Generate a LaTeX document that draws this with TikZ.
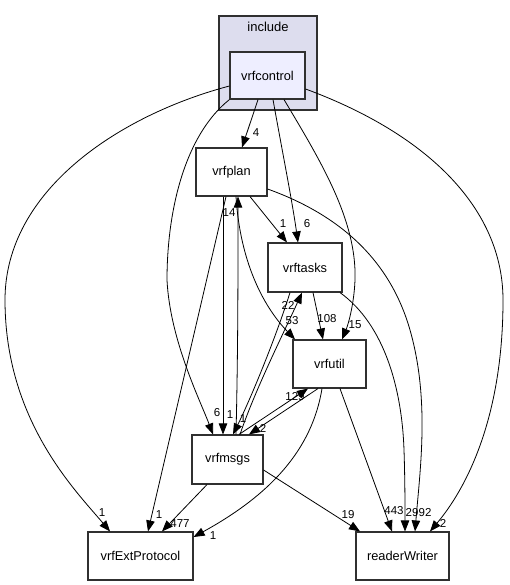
\documentclass[tikz,border=0pt]{standalone}
\usepackage{fontspec}
\setmainfont{Liberation Sans}
\usetikzlibrary{arrows.meta,calc}
\definecolor{clusterfill}{HTML}{DDDDEE}
\definecolor{nodefill}{HTML}{EEEEFF}
\definecolor{boxgray}{HTML}{303030}
\begin{document}
\begin{tikzpicture}[x=1pt,y=-1pt,
  box/.style={draw=boxgray, line width=1.15pt, fill=white, inner sep=0pt, font=\fontsize{12.8}{15}\selectfont},
  dep/.style={draw=black, line width=0.8pt, -{Triangle[length=11pt,width=8.5pt]}},
  lab/.style={font=\fontsize{11.5}{13}\selectfont, inner sep=0pt}]
\useasboundingbox[fill=white] (0,0) rectangle (509,585);
% cluster
\node[box, fill=clusterfill, minimum width=98pt, minimum height=94pt] (cl) at (268,63) {};
\node[font=\fontsize{13}{15}\selectfont, inner sep=0pt] (incl) at (268,27) {include};
% nodes
\node[box, fill=nodefill, minimum width=75pt, minimum height=47pt] (vrfcontrol) at (267.5,75.5) {vrfcontrol};
\node[box, minimum width=71pt, minimum height=48pt] (vrfplan) at (231.5,172) {vrfplan};
\node[box, minimum width=74pt, minimum height=49pt] (vrftasks) at (305,267.5) {vrftasks};
\node[box, minimum width=73pt, minimum height=48pt] (vrfutil) at (329.5,364) {vrfutil};
\node[box, minimum width=71pt, minimum height=49pt] (vrfmsgs) at (227.5,459.5) {vrfmsgs};
\node[box, minimum width=105pt, minimum height=48pt] (vrfExtProtocol) at (140.5,556) {vrfExtProtocol};
\node[box, minimum width=93pt, minimum height=48pt] (readerWriter) at (402.5,556) {readerWriter};
% edges from vrfcontrol
\draw[dep] (vrfcontrol.west |- 0,86) .. controls (120,115) and (5,190) .. (5,300) .. controls (5,420) and (75,490) .. (110,0 |- vrfExtProtocol.north);
\draw[dep] (258,0 |- vrfcontrol.south) -- (242,0 |- vrfplan.north);
\draw[dep] (vrfcontrol.south west) .. controls (185,135) and (167,210) .. (167,280) .. controls (170,340) and (200,400) .. (213,0 |- vrfmsgs.north);
\draw[dep] (273,0 |- vrfcontrol.south) .. controls (282,150) and (292,200) .. (298,0 |- vrftasks.north);
\draw[dep] (284,0 |- vrfcontrol.south) .. controls (320,160) and (357,220) .. (355,280) .. controls (354,305) and (348,325) .. (342,0 |- vrfutil.north);
\draw[dep] (vrfcontrol.east |- 0,89) .. controls (430,135) and (503,210) .. (503,300) .. controls (503,420) and (465,490) .. (430,0 |- readerWriter.north);
% edges from vrfplan
\draw[dep] (250,0 |- vrfplan.south) -- (287,0 |- vrftasks.north);
\draw[dep] (vrfplan.east |- 0,189) .. controls (340,215) and (390,260) .. (410,330) .. controls (430,400) and (420,470) .. (415,0 |- readerWriter.north);
\draw[dep] (223,0 |- vrfplan.south) -- (223,0 |- vrfmsgs.north);
\draw[dep] (226,0 |- vrfplan.south) -- (148,0 |- vrfExtProtocol.north);
\draw[dep] (236,0 |- vrfplan.south) .. controls (240,260) and (262,305) .. (295,0 |- vrfutil.north);
% edges from vrfmsgs
\draw[dep] (236,0 |- vrfmsgs.north) .. controls (238,350) and (238,280) .. (238,0 |- vrfplan.south);
\draw[dep] (240,0 |- vrfmsgs.north) .. controls (255,390) and (285,330) .. (302,0 |- vrftasks.south);
\draw[dep] (239,0 |- vrfmsgs.north) -- (308,0 |- vrfutil.south);
\draw[dep] (207,0 |- vrfmsgs.south) -- (162,0 |- vrfExtProtocol.north);
\draw[dep] (vrfmsgs.east |- 0,470) -- (360,0 |- readerWriter.north);
% edges from vrftasks
\draw[dep] (290,0 |- vrftasks.south) .. controls (275,340) and (250,400) .. (233,0 |- vrfmsgs.north);
\draw[dep] (313,0 |- vrftasks.south) -- (323,0 |- vrfutil.north);
\draw[dep] (340,0 |- vrftasks.south) .. controls (385,325) and (402,390) .. (404,450) .. controls (405,480) and (405,505) .. (405,0 |- readerWriter.north);
% edges from vrfutil
\draw[dep] (318,0 |- vrfutil.south) -- (249,0 |- vrfmsgs.north);
\draw[dep] (340,0 |- vrfutil.south) -- (392,0 |- readerWriter.north);
\draw[dep] (322,0 |- vrfutil.south) .. controls (312,450) and (270,495) .. (vrfExtProtocol.east |- 0,537);
% labels
\node[lab] (la) at (102,513) {1};
\node[lab] (lb) at (256,133) {4};
\node[lab] (lc) at (217,413) {6};
\node[lab] (ld) at (307,224) {6};
\node[lab] (le) at (355,325) {15};
\node[lab] (lf) at (443,523) {2};
\node[lab] (lg) at (283,224) {1};
\node[lab] (lh) at (425,513) {92};
\node[lab] (li) at (230,415) {1};
\node[lab] (lj) at (159,515) {1};
\node[lab] (lk) at (292,321) {53};
\node[lab] (ll) at (229,213) {14};
\node[lab] (lm) at (288,305) {22};
\node[lab] (ln) at (295,397) {129};
\node[lab] (lo) at (180,524) {477};
\node[lab] (lp) at (348,515) {19};
\node[lab] (lq) at (243,419) {1};
\node[lab] (lr) at (327,319) {108};
\node[lab] (ls) at (412,513) {29};
\node[lab] (lt) at (263,428) {2};
\node[lab] (lu) at (394,511) {443};
\node[lab] (lv) at (213,536) {1};
\end{tikzpicture}
\end{document}
